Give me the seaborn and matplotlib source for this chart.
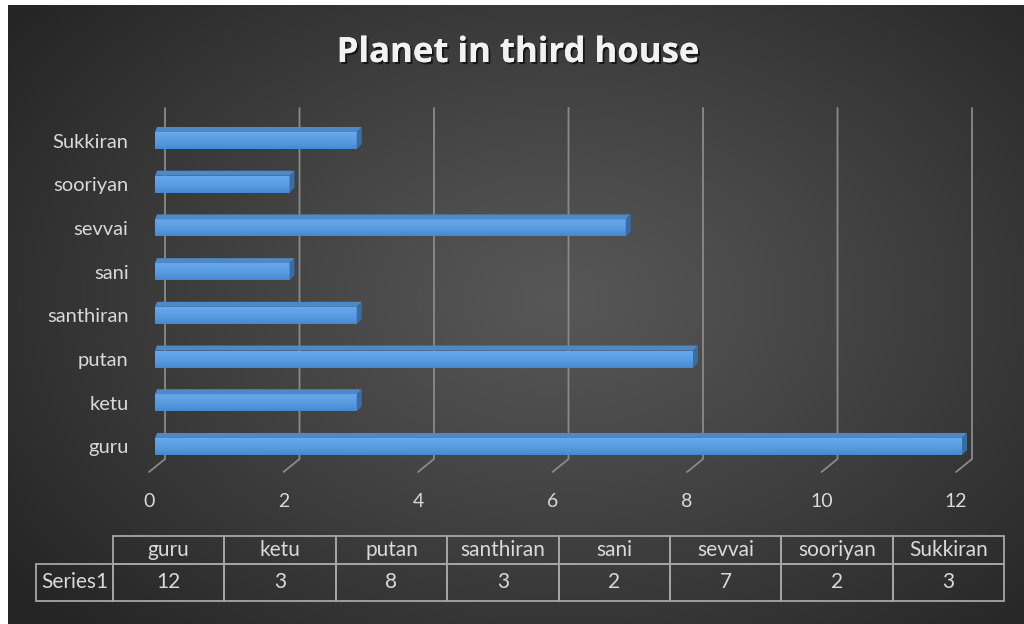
import numpy as np
import pandas as pd
import matplotlib
matplotlib.use("Agg")
import matplotlib.pyplot as plt
import seaborn as sns
from matplotlib.patches import Polygon
from matplotlib.lines import Line2D
from matplotlib.transforms import IdentityTransform, ScaledTranslation
from matplotlib.table import Table
from matplotlib import patheffects
from matplotlib.colors import to_rgb

# ---- data -------------------------------------------------------------
planets = ["guru", "ketu", "putan", "santhiran", "sani", "sevvai", "sooriyan", "Sukkiran"]
counts = [12, 3, 8, 3, 2, 7, 2, 3]
series_name = "Series1"
x_ticks = [0, 2, 4, 6, 8, 10, 12]
chart_title = "Planet in third house"

# ---- canvas -----------------------------------------------------------
W, H, DPI = 1024, 624, 100
TEXT = "#d9d9d9"
GRID = "#8a8a8a"
RULE = "#a6a6a6"

sns.set_theme(style="white")
plt.rcParams["font.family"] = ["Lato", "DejaVu Sans"]

fig = plt.figure(figsize=(W / DPI, H / DPI), dpi=DPI, facecolor="white")


def px_box(x0, y0, x1, y1):
    """Axes rectangle from pixel edges (origin top-left)."""
    return [x0 / W, 1 - y1 / H, (x1 - x0) / W, (y1 - y0) / H]


# radial dark background
bg = fig.add_axes(px_box(8, 5, W, H), zorder=-10)
gx = np.linspace(8, W, 640)
gy = np.linspace(5, H, 400)
GX, GY = np.meshgrid(gx, gy)
rad = np.clip(np.sqrt(((GX - 560) / 680) ** 2 + ((GY - 300) / 470) ** 2), 0, 1)
c_in = np.array(to_rgb("#575757"))
c_out = np.array(to_rgb("#252525"))
bg_img = c_in + (c_out - c_in) * rad[..., None] ** 1.1
bg.imshow(bg_img, extent=(0, 1, 0, 1), aspect="auto", origin="upper")
bg.axis("off")

# ---- bar chart --------------------------------------------------------
df = pd.DataFrame({"planet": planets, "count": counts})
order = planets[::-1]

ax = fig.add_axes(px_box(155, 108, 962, 472))
ax.patch.set_alpha(0)
sns.barplot(data=df, y="planet", x="count", order=order, orient="h",
            color="#5b9bd5", saturation=1, width=0.39, ax=ax, zorder=3,
            linewidth=0, edgecolor="none")

XLIM = (0, 12)
YLIM = (7.584, -0.744)
ax.set_xlim(*XLIM)
ax.set_ylim(*YLIM)
for s in ax.spines.values():
    s.set_visible(False)
ax.set_xlabel("")
ax.set_ylabel("")

# gridlines on the back wall with a slanted foot towards the floor
xt = ax.get_xaxis_transform()
foot = (472 - 459) / 364
for v in x_ticks:
    pts = xt.transform([(v, 1.0), (v, foot), (v, 0.0)])
    pts[0, 0] += 10
    pts[1, 0] += 10
    pts[2, 0] -= 6
    ax.add_line(Line2D(pts[:, 0], pts[:, 1], transform=IdentityTransform(),
                       color=GRID, lw=1.3, zorder=1, clip_on=False))

# bevelled bars: shaded front face, top face and end face
grad_cols = np.array([to_rgb(c) for c in ["#6aabef", "#5fa1e6", "#5498de", "#4689d2"]])
tt = np.linspace(0, 1, 64)
grad = np.stack([np.interp(tt, np.linspace(0, 1, len(grad_cols)), grad_cols[:, k])
                 for k in range(3)], axis=-1)[:, None, :]
DX, DY = 5, 5
for bar in list(ax.patches):
    x0, w = bar.get_x(), bar.get_width()
    y0, h = bar.get_y(), bar.get_height()
    im = ax.imshow(grad, extent=(x0, x0 + w, y0 + h, y0), origin="upper",
                   aspect="auto", zorder=4)
    im.set_clip_path(bar)
    (lx, ty), (rx, by) = ax.transData.transform([(x0, y0), (x0 + w, y0 + h)])
    top_y, bot_y = max(ty, by), min(ty, by)
    top_face = [(lx, top_y), (rx, top_y), (rx + DX, top_y + DY), (lx + DX * 0.4, top_y + DY)]
    end_face = [(rx, top_y), (rx, bot_y), (rx + DX, bot_y + DY), (rx + DX, top_y + DY)]
    ax.add_patch(Polygon(top_face, closed=True, transform=IdentityTransform(),
                         facecolor="#4f88c6", edgecolor="none", zorder=5, clip_on=False))
    ax.add_patch(Polygon(end_face, closed=True, transform=IdentityTransform(),
                         facecolor="#3a6da6", edgecolor="none", zorder=5, clip_on=False))

ax.set_xlim(*XLIM)
ax.set_ylim(*YLIM)

# axis labels
ax.set_xticks(x_ticks)
ax.set_xticklabels([str(v) for v in x_ticks])
ax.tick_params(axis="x", length=0, pad=15, labelsize=14, labelcolor=TEXT)
ax.tick_params(axis="y", length=0, pad=19, labelsize=14.5, labelcolor=TEXT)
shift = ScaledTranslation(-6 / DPI, 0, fig.dpi_scale_trans)
for lab in ax.get_xticklabels():
    lab.set_transform(lab.get_transform() + shift)

# ---- title ------------------------------------------------------------
fig.text(518 / W, 1 - 53 / H, chart_title, ha="center", va="center",
         fontsize=25, fontweight="bold", color="#f2f2f2",
         family=["Open Sans", "DejaVu Sans"],
         path_effects=[patheffects.withSimplePatchShadow(offset=(1.5, -1.5),
                                                         shadow_rgbFace="black", alpha=0.6),
                       patheffects.Normal()])

# ---- data table -------------------------------------------------------
TX0, TX1, TY0, TY1 = 36, 1004, 536, 601
tw, th = TX1 - TX0, TY1 - TY0
label_w = 77 / tw
col_w = (tw - 77) / len(planets) / tw
head_h, row_h = 28 / th, 37 / th

tax = fig.add_axes(px_box(TX0, TY0, TX1, TY1))
tax.axis("off")
table = Table(tax, bbox=[label_w, 0, 1 - label_w, 1])
for j, (name, val) in enumerate(zip(planets, counts)):
    table.add_cell(0, j, col_w, head_h, text=name, loc="center",
                   facecolor="none", edgecolor=RULE)
    table.add_cell(1, j, col_w, row_h, text=str(val), loc="center",
                   facecolor="none", edgecolor=RULE)
table.add_cell(1, -1, label_w, row_h, text=series_name, loc="center",
               facecolor="none", edgecolor=RULE)
table.auto_set_font_size(False)
table.set_fontsize(15)
for cell in table.get_celld().values():
    cell.set_linewidth(1.3)
    cell.set_clip_on(False)
    cell.get_text().set_color(TEXT)
    cell.get_text().set_clip_on(False)
table.set_clip_on(False)
tax.add_table(table)

fig.savefig("out.png", dpi=DPI, facecolor=fig.get_facecolor())
